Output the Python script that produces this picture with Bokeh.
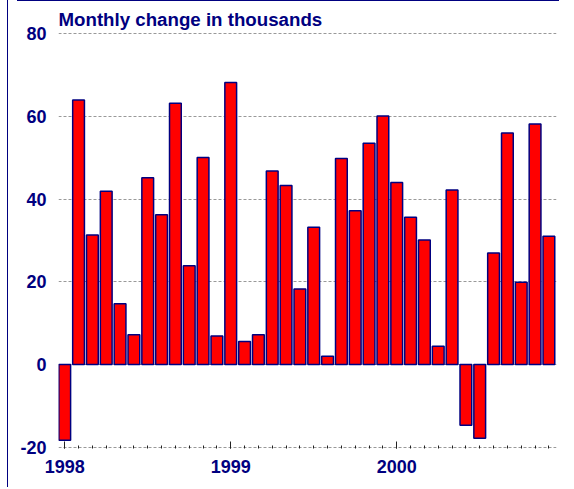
from bokeh.plotting import figure
from bokeh.models import Range1d, FixedTicker, InlineStyleSheet
from bokeh.embed import file_html
from bokeh.resources import INLINE

title_text = "Monthly change in thousands"
years = ["1998", "1999", "2000"]
values = [-18.3, 64.0, 31.3, 41.9, 14.7, 7.2, 45.2, 36.2, 63.2, 23.9, 50.1, 6.9,
          68.2, 5.6, 7.2, 46.8, 43.3, 18.3, 33.2, 2.0, 49.8, 37.2, 53.5, 60.1,
          44.0, 35.6, 30.1, 4.4, 42.2, -14.7, -17.8, 27.0, 56.0, 19.9, 58.2, 31.0]
y_ticks = [-20, 0, 20, 40, 60, 80]

months = list(range(len(values)))
navy = "#000080"
font = "Liberation Sans"

css = InlineStyleSheet(css="""
:host { position: relative; }
:host::before { content: ""; position: absolute; left: 7px; top: 0px; width: 1px;
                height: 487px; background: #000080; z-index: 100; }
:host::after { content: ""; position: absolute; left: 17px; top: 0px; width: 542px;
               height: 1px; background: #000080; z-index: 100; }
""")

p = figure(width=570, height=488, output_backend="svg", toolbar_location=None,
           x_range=Range1d(-0.45, 35.55), y_range=Range1d(-20.3, 80.3),
           min_border_left=58, min_border_right=14, min_border_top=32, min_border_bottom=40,
           stylesheets=[css])
p.outline_line_color = None
p.background_fill_color = "white"
p.border_fill_color = "white"

p.title.text = title_text
p.title.align = "left"
p.title.offset = 0
p.title.standoff = 5
p.title.text_font = font
p.title.text_font_style = "bold"
p.title.text_font_size = "18.7px"
p.title.text_color = navy

p.vbar(x=months, top=values, bottom=0, width=0.85, fill_color="#FF0000",
       line_color=navy, line_width=1.5)

# y axis
p.yaxis.ticker = FixedTicker(ticks=y_ticks)
p.yaxis.major_label_overrides = {t: str(t) for t in y_ticks}
p.yaxis.axis_line_color = None
p.yaxis.major_tick_line_color = None
p.yaxis.minor_tick_line_color = None
p.yaxis.major_tick_out = 0
p.yaxis.major_tick_in = 0
p.yaxis.minor_tick_out = 0
p.yaxis.major_label_standoff = 12
p.yaxis.major_label_text_font = font
p.yaxis.major_label_text_font_style = "bold"
p.yaxis.major_label_text_font_size = "18px"
p.yaxis.major_label_text_color = navy

# x axis
p.xaxis.ticker = FixedTicker(ticks=[0, 12, 24], minor_ticks=months)
p.xaxis.major_label_overrides = {0: years[0], 12: years[1], 24: years[2]}
p.xaxis.axis_line_color = None
p.xaxis.major_tick_in = 7
p.xaxis.major_tick_out = 0
p.xaxis.minor_tick_in = 3
p.xaxis.minor_tick_out = 0
p.xaxis.major_tick_line_color = "#222222"
p.xaxis.minor_tick_line_color = "#222222"
p.xaxis.major_label_standoff = 11
p.xaxis.major_label_text_font = font
p.xaxis.major_label_text_font_style = "bold"
p.xaxis.major_label_text_font_size = "18px"
p.xaxis.major_label_text_color = navy

p.xgrid.grid_line_color = None
p.ygrid.ticker = FixedTicker(ticks=y_ticks)
p.ygrid.grid_line_color = "#999999"
p.ygrid.grid_line_dash = "3 2"
p.ygrid.grid_line_width = 1

open("out.html", "w").write(file_html(p, INLINE))
